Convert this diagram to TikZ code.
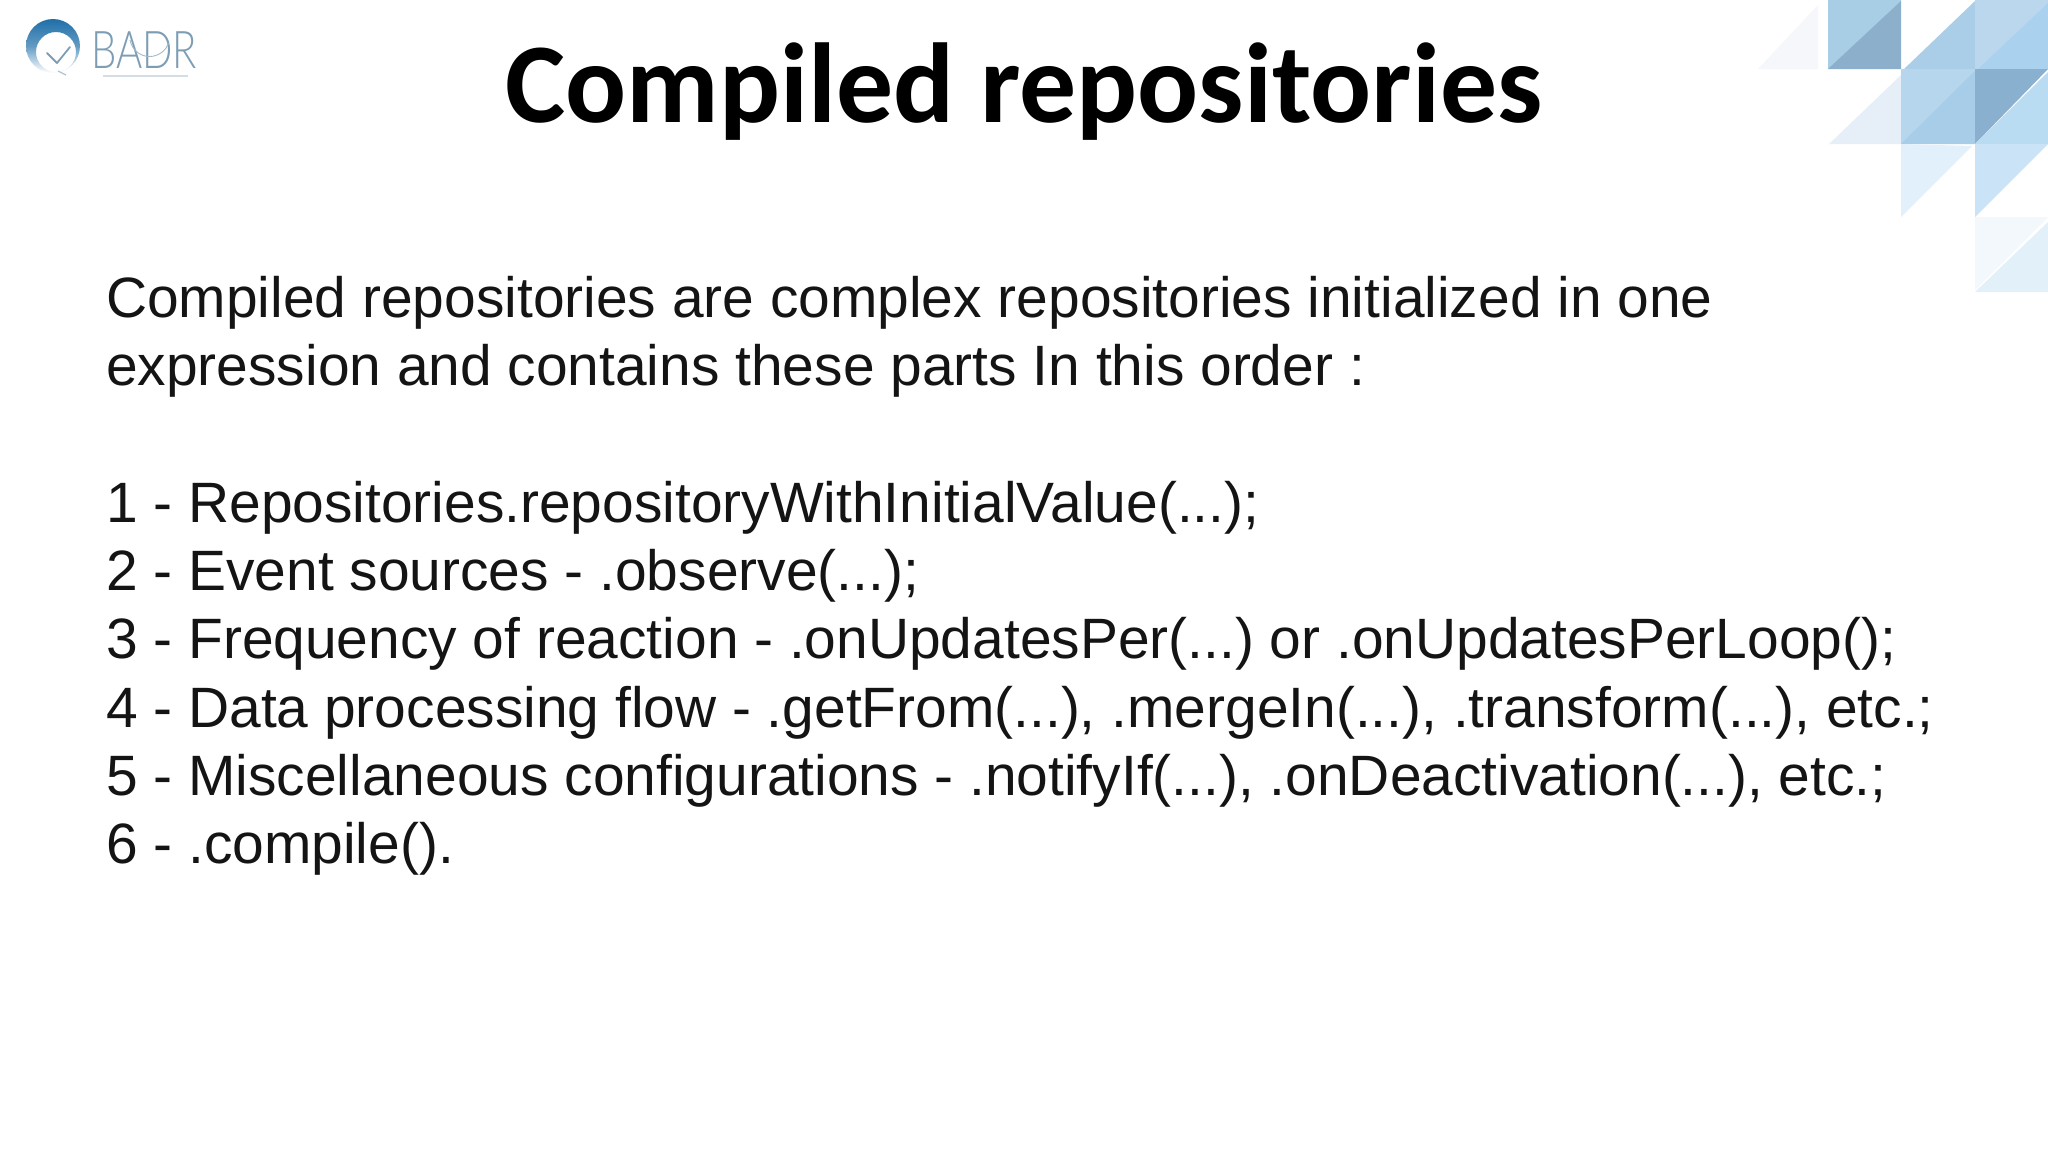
\documentclass[tikz,border=0pt]{standalone}
\usepackage{fontspec}
\setmainfont{Liberation Sans}
\newfontfamily\titlefont{Carlito}
\newfontfamily\logofont{Lato Light}
\definecolor{bodyink}{HTML}{141414}
\definecolor{logoblue}{HTML}{1F6FA8}
\definecolor{logogrey}{HTML}{7D9DB5}
\tikzset{
  bodyline/.style={anchor=base west,inner sep=0pt,text=bodyink,font=\frenchspacing\fontsize{56.9}{68}\selectfont},
  titletext/.style={anchor=base,inner sep=0pt,text=black,font=\titlefont\bfseries\fontsize{113.7}{120}\selectfont},
  logotext/.style={anchor=base west,inner sep=0pt,text=logogrey,font=\logofont\fontsize{52}{52}\selectfont,xscale=.77},
  tile/.style={draw=none}
}
\begin{document}
\begin{tikzpicture}[x=1pt,y=-1pt]
\useasboundingbox (0,0) rectangle (2048,1152);
\fill[white] (0,0) rectangle (2048,1152);
% corner tiles
\fill[tile,fill={rgb,255:red,246;green,247;blue,250}] (1758,69) -- (1818,5) -- (1818,69) -- cycle;
\fill[tile,fill={rgb,255:red,168;green,206;blue,229}] (1828,0) -- (1901,0) -- (1901,69) -- (1828,69) -- cycle;
\fill[tile,fill={rgb,255:red,140;green,175;blue,203}] (1828,69) -- (1901,1) -- (1901,69) -- cycle;
\fill[tile,fill={rgb,255:red,170;green,205;blue,232}] (1904,69) -- (1975,1) -- (1975,69) -- cycle;
\fill[tile,fill={rgb,255:red,186;green,215;blue,238}] (1975,0) -- (2048,0) -- (2048,69) -- (1975,69) -- cycle;
\fill[tile,fill={rgb,255:red,170;green,210;blue,238}] (1978,69) -- (2048,3) -- (2048,69) -- cycle;
\fill[tile,fill={rgb,255:red,230;green,239;blue,248}] (1829,144) -- (1901,75) -- (1901,144) -- cycle;
\fill[tile,fill={rgb,255:red,182;green,214;blue,238}] (1901,69) -- (1975,69) -- (1975,144) -- (1901,144) -- cycle;
\fill[tile,fill={rgb,255:red,167;green,205;blue,233}] (1901,144) -- (1975,71) -- (1975,144) -- cycle;
\fill[tile,fill={rgb,255:red,138;green,176;blue,207}] (1975,144) -- (1975,69) -- (2048,69) -- cycle;
\fill[tile,fill={rgb,255:red,186;green,220;blue,243}] (1975,144) -- (2048,72) -- (2048,144) -- cycle;
\fill[tile,fill={rgb,255:red,226;green,240;blue,251}] (1901,144) -- (1972,146) -- (1901,217) -- cycle;
\fill[tile,fill={rgb,255:red,203;green,227;blue,246}] (1975,144) -- (2048,144) -- (1975,217) -- cycle;
\fill[tile,fill={rgb,255:red,242;green,248;blue,252}] (1975,217) -- (2048,217) -- (1975,290) -- cycle;
\fill[tile,fill={rgb,255:red,226;green,240;blue,250}] (1975,292) -- (2048,222) -- (2048,292) -- cycle;
% logo
\begin{scope}
  \path[even odd rule,top color=logoblue,bottom color=white,middle color=logoblue!70]
    (53,46) circle[radius=27] (56,52) circle[radius=20];
  \draw[logogrey,line width=1.8pt,line cap=round,line join=round]
    (47,53) -- (57,63) -- (70,47);
  \draw[logogrey!60,line width=1.2pt] (58,71) -- (66,75);
\end{scope}
\node[logotext] (logoname) at (91,68) {BADR};
\draw[logogrey!70,line width=.9pt] (130,40) arc[start angle=170,end angle=20,radius=20];
\draw[logogrey!35,line width=2pt] (103,76) -- (188,76);
% title
\node[titletext] (title) at (1024,122) {Compiled repositories};
% body
\node[bodyline] (l1) at (106,317) {Compiled repositories are complex repositories initialized in one};
\node[bodyline] (l2) at (106,385) {expression and contains these parts In this order :};
\node[bodyline] (l3) at (106,522) {1 - Repositories.repositoryWithInitialValue(...);};
\node[bodyline] (l4) at (106,590) {2 - Event sources - .observe(...);};
\node[bodyline] (l5) at (106,658) {3 - Frequency of reaction - .onUpdatesPer(...) or .onUpdatesPerLoop();};
\node[bodyline] (l6) at (106,727) {4 - Data processing flow - .getFrom(...), .mergeIn(...), .transform(...), etc.;};
\node[bodyline] (l7) at (106,795) {5 - Miscellaneous configurations - .notifyIf(...), .onDeactivation(...), etc.;};
\node[bodyline] (l8) at (106,863) {6 - .compile().};
\end{tikzpicture}
\end{document}
